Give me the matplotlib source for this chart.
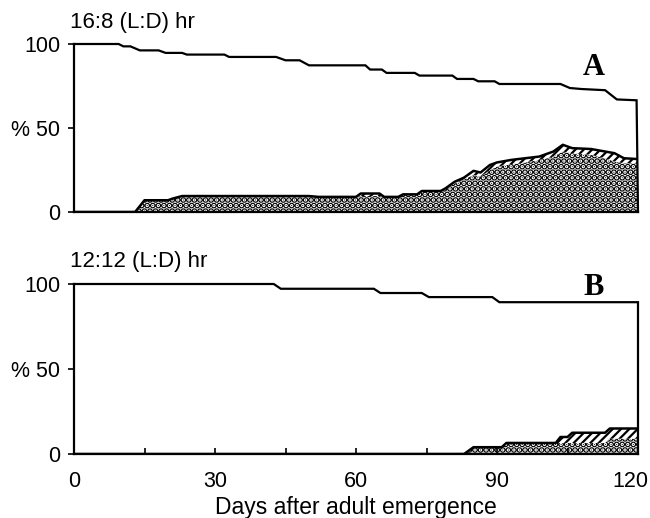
import matplotlib
matplotlib.use("Agg")
import matplotlib.pyplot as plt
import matplotlib.transforms as mtransforms
from matplotlib.ticker import MultipleLocator

plt.rcParams['font.family'] = ['Liberation Sans', 'DejaVu Sans']

# ---- Panel A: 16:8 (L:D) ----
surv_A_days = [0, 9.5, 10.5, 12, 14, 18, 19.5, 23, 24, 32, 33, 43, 45, 48, 50, 62, 63, 65.5,
               66.5, 72.5, 73.5, 80.5, 81.5, 85, 86, 89.5, 90.5, 103.5, 105.5, 108, 113,
               115.5, 119.7, 120]
surv_A_vals = [100, 100, 98.6, 98.6, 96.2, 96.2, 94.7, 94.7, 93.7, 93.7, 92.3, 92.3, 90.3,
               90.3, 87.3, 87.3, 84.8, 84.8, 82.8, 82.8, 81.2, 81.2, 79.2, 79.2, 77.8, 77.8,
               76.2, 76.2, 73.8, 73.2, 72.5, 67, 66.5, 0]

layer_A_days = [0, 13, 15, 20, 21, 23, 50, 52, 60, 61, 65, 66, 69, 70, 73, 74, 78, 79, 81, 83,
                85, 86.5, 88.5, 90, 93, 96, 99, 102, 104, 106, 110, 113, 115, 117, 120]
dotted_A = [0, 0, 7, 7, 8, 9.5, 9.5, 9, 9, 9.5, 9.5, 9, 9, 10.5, 10.5, 12.5, 12.5, 13.5, 17,
            19.5, 22, 21, 25, 27, 28.5, 29.5, 31, 33, 36, 35, 34, 32, 30, 29, 29]
total_A = [0, 0, 7, 7, 8, 9.5, 9.5, 9, 9, 11, 11, 9, 9, 10.5, 10.5, 12.5, 12.5, 14, 18, 20.5,
           24.5, 23.5, 28, 29.5, 31, 32, 33, 36, 40, 38, 37.5, 36, 35, 32, 31.5]

# ---- Panel B: 12:12 (L:D) ----
surv_B_days = [0, 42.5, 44, 63.8, 65.2, 74, 75.5, 89, 90.5, 120, 120]
surv_B_vals = [100, 100, 97.2, 97.2, 94.7, 94.7, 92.3, 92.3, 89.3, 89.3, 0]

layer_B_days = [0, 83, 85, 91, 92, 102.5, 103.5, 105, 106, 113, 114, 120]
dotted_B = [0, 0, 4, 4, 6.5, 6.5, 6.5, 6.5, 6.5, 6.5, 9, 9]
total_B = [0, 0, 4, 4, 6.5, 6.5, 10, 10, 12.5, 12.5, 15, 15]

x_ticks = [0, 30, 60, 90, 120]
y_ticks = [0, 50, 100]
y_labels = ['0', '% 50', '100']
titles = ['16:8 (L:D) hr', '12:12 (L:D) hr']
letters = ['A', 'B']
letter_y = [0.863, 0.98]

W, H = 650, 518
fig = plt.figure(figsize=(W / 100, H / 100), dpi=100)

def px_axes(x0, y_top, x1, y_bot):
    return fig.add_axes([x0 / W, 1 - y_bot / H, (x1 - x0) / W, (y_bot - y_top) / H])

axA = px_axes(74, 44, 638, 212)
axB = px_axes(74, 284, 638, 454)

panels = [
    (axA, surv_A_days, surv_A_vals, layer_A_days, dotted_A, total_A),
    (axB, surv_B_days, surv_B_vals, layer_B_days, dotted_B, total_B),
]

for i, (ax, sd, sv, ld, dv, tv) in enumerate(panels):
    with plt.rc_context({'hatch.linewidth': 3.2}):
        ax.fill_between(ld, 0, dv, facecolor='white', edgecolor='black', hatch='...', lw=0)
    with plt.rc_context({'hatch.linewidth': 1.6}):
        ax.fill_between(ld, dv, tv, facecolor='white', edgecolor='black', hatch='////', lw=0)
    ax.plot(ld, tv, color='black', lw=1.8)
    ax.plot(sd, sv, color='black', lw=1.6, clip_on=False, solid_joinstyle='miter')
    ax.set_xlim(0, 120)
    ax.set_ylim(0, 100)
    for s in ['top', 'right']:
        ax.spines[s].set_visible(False)
    for s in ['left', 'bottom']:
        ax.spines[s].set_linewidth(1.6)
    ax.set_yticks(y_ticks)
    ax.set_yticklabels(y_labels, fontsize=15.5)
    ax.tick_params(axis='y', direction='out', length=4, width=1.2, pad=6)
    ax.text(-0.007, 1.13, titles[i], transform=ax.transAxes, fontsize=16,
            ha='left', va='center')
    ax.text(0.922, letter_y[i], letters[i], transform=ax.transAxes, fontsize=22,
            fontweight='bold', family='Liberation Serif', ha='center', va='center')

axA.set_xticks([])
axB.set_xticks(x_ticks)
axB.set_xticklabels([str(t) for t in x_ticks], fontsize=15.5)
axB.xaxis.set_minor_locator(MultipleLocator(15))
axB.tick_params(axis='x', which='both', direction='in', length=4, width=1.2, pad=12)
axB.set_xlabel('Days after adult emergence', fontsize=16.5, labelpad=3)

# keep the last x label inside the figure, as in the reference
last = axB.get_xticklabels()[-1]
last.set_transform(last.get_transform() + mtransforms.ScaledTranslation(-8 / 100, 0, fig.dpi_scale_trans))

fig.savefig('out.png', dpi=100)
